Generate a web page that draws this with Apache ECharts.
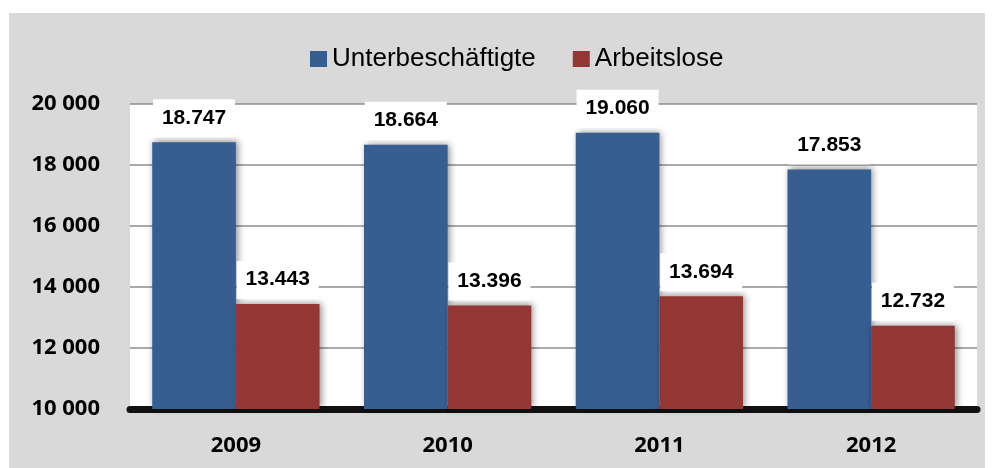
<!DOCTYPE html>
<html>
<head>
<meta charset="utf-8">
<script src="https://cdn.jsdelivr.net/npm/echarts@6/dist/echarts.min.js"></script>
<style>
  html, body { margin: 0; padding: 0; background: #fff; }
  #chart { width: 994px; height: 468px; }
</style>
</head>
<body>
<div id="chart"></div>
<script>
// Daten
const years = ['2009', '2010', '2011', '2012'];
const unterbeschaeftigte = [18747, 18664, 19060, 17853];
const arbeitslose = [13443, 13396, 13694, 12732];
const seriesNames = ['Unterbeschäftigte', 'Arbeitslose'];

// 18747 -> "18.747"
const dotFmt = v => String(v).replace(/\B(?=(\d{3})+(?!\d))/g, '.');
// 20000 -> "20 000"
const spaceFmt = v => String(v).replace(/\B(?=(\d{3})+(?!\d))/g, ' ');

const barLabel = {
  show: true,
  position: 'top',
  distance: 5,
  formatter: p => dotFmt(p.value),
  backgroundColor: '#fff',
  width: 82,
  align: 'center',
  padding: [8, 0, 9, 0],
  color: '#000',
  fontSize: 21,
  fontWeight: 'bold',
  fontFamily: 'Liberation Sans',
};

const makeSeries = (name, data, color) => ({
  name,
  type: 'bar',
  data,
  barGap: 0,
  barCategoryGap: '21%',
  itemStyle: {
    color,
    shadowColor: 'rgba(0,0,0,0.45)',
    shadowBlur: 7,
    shadowOffsetX: 2,
    shadowOffsetY: -1,
  },
  label: barLabel,
});

const chart = echarts.init(document.getElementById('chart'));
chart.setOption({
  animation: false,
  graphic: [
    {
      type: 'rect',
      z: -10,
      shape: { x: 9, y: 13, width: 976, height: 455 },
      style: { fill: '#d9d9d9' },
    },
  ],
  legend: {
    data: seriesNames,
    left: 305,
    top: 41,
    icon: 'rect',
    itemWidth: 17,
    itemHeight: 16,
    itemGap: 37,
    textStyle: {
      color: '#000',
      fontSize: 26,
      fontFamily: 'Liberation Sans',
    },
  },
  grid: {
    left: 130,
    right: 17,
    top: 104,
    bottom: 59,
    show: true,
    backgroundColor: '#fff',
    borderWidth: 0,
  },
  xAxis: {
    type: 'category',
    data: years,
    axisTick: { show: false },
    axisLine: { lineStyle: { color: '#111', width: 7 } },
    axisLabel: {
      margin: 26,
      color: '#000',
      fontSize: 22,
      fontWeight: 'bold',
      fontFamily: 'Open Sans',
    },
  },
  yAxis: {
    type: 'value',
    min: 10000,
    max: 20000,
    interval: 2000,
    axisLine: { show: false },
    axisTick: { show: false },
    splitLine: { lineStyle: { color: '#8e8e8e', width: 1.5 } },
    axisLabel: {
      margin: 30,
      formatter: spaceFmt,
      color: '#000',
      fontSize: 22,
      fontWeight: 'bold',
      fontFamily: 'Open Sans',
    },
  },
  series: [
    makeSeries(seriesNames[0], unterbeschaeftigte, '#365e91'),
    makeSeries(seriesNames[1], arbeitslose, '#943634'),
  ],
});
</script>
</body>
</html>
